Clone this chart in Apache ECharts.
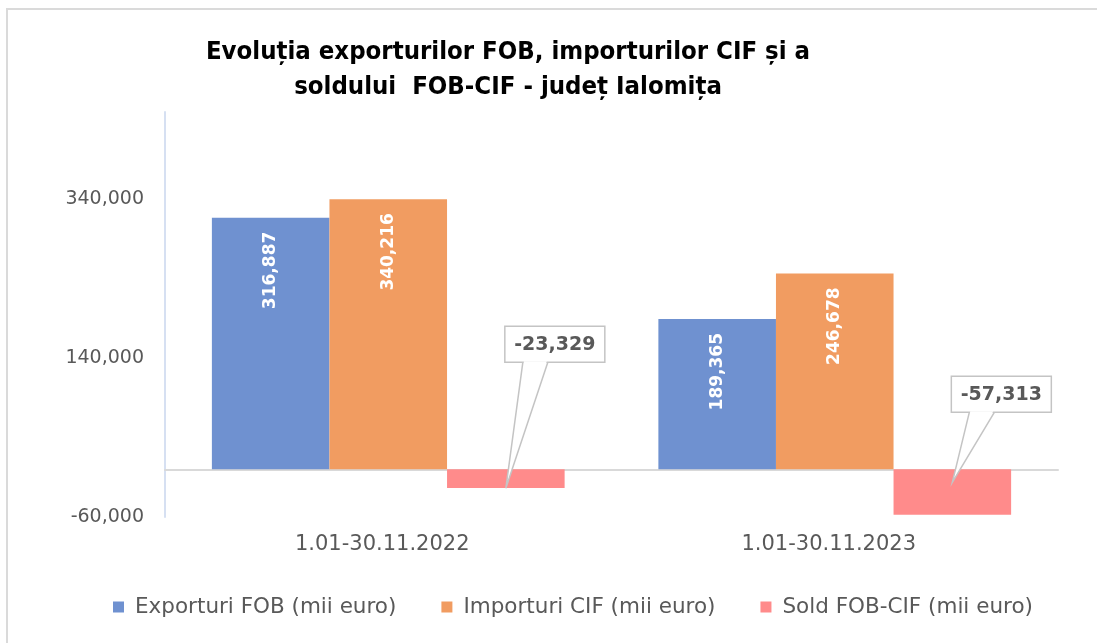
<!DOCTYPE html>
<html>
<head>
<meta charset="utf-8">
<title>Evoluția exporturilor FOB, importurilor CIF și a soldului FOB-CIF - județ Ialomița</title>
<script src="https://cdn.jsdelivr.net/npm/echarts@6/dist/echarts.min.js"></script>
<style>
  html, body { margin: 0; padding: 0; background: #fff; overflow: hidden; }
  #chart { width: 1097px; height: 643px; }
</style>
</head>
<body>
<div id="chart"></div>
<script>
// date
const categories = ['1.01-30.11.2022', '1.01-30.11.2023']
const exporturi = [316887, 189365]
const importuri = [340216, 246678]
const sold = [-23329, -57313]
const seriesNames = ['Exporturi FOB (mii euro)', 'Importuri CIF (mii euro)', 'Sold FOB-CIF (mii euro)']
const yTicks = [-60000, 140000, 340000]

// culori
const colors = ['#6f91d0', '#f19c61', '#ff8b8b']
const catGap = 0.21

// pozitia casetelor pentru sold (fata de linia zero), doar stil
const calloutStyle = [
  { dy: -143, tipDy: 19 },
  { dy: -93, tipDy: 13 }
]

const fmt = (v) => Number(v).toLocaleString('en-US')

const chart = echarts.init(document.getElementById('chart'))

// eticheta verticala in interiorul barei
const insideLabel = {
  show: true,
  position: 'insideTop',
  distance: 14,
  rotate: 90,
  align: 'right',
  verticalAlign: 'middle',
  color: '#fff',
  fontFamily: 'DejaVu Sans',
  fontWeight: 'bold',
  fontSize: 17,
  formatter: (p) => fmt(p.value)
}

// caseta cu sageata pentru sold
const renderCallout = (params, api) => {
  const cat = api.value(0)
  const zero = api.coord([cat, 0])
  const catW = api.size([1, 0])[0]
  const bw = (catW * (1 - catGap)) / 3
  const bx = zero[0] + bw
  const s = calloutStyle[params.dataIndex]
  const boxW = 100
  const boxH = 36
  const left = bx - 1
  const top = zero[1] + s.dy
  const bottom = top + boxH
  const tip = [bx, zero[1] + s.tipDy]
  const b1 = [left + 18, bottom]
  const b2 = [left + 43, bottom]
  return {
    type: 'group',
    children: [
      {
        type: 'rect',
        shape: { x: left, y: top, width: boxW, height: boxH },
        style: { fill: '#fff', stroke: '#c4c4c4', lineWidth: 1.5 }
      },
      {
        type: 'polygon',
        shape: { points: [[b1[0] + 1, bottom - 1], tip, [b2[0] - 1, bottom - 1]] },
        style: { fill: '#fff', stroke: null }
      },
      {
        type: 'polyline',
        shape: { points: [b1, tip, b2] },
        style: { fill: null, stroke: '#c4c4c4', lineWidth: 1.5 }
      },
      {
        type: 'text',
        style: {
          x: left + boxW / 2,
          y: top + boxH / 2 + 1,
          text: fmt(api.value(1)),
          align: 'center',
          verticalAlign: 'middle',
          fill: '#595959',
          fontFamily: 'DejaVu Sans',
          fontWeight: 'bold',
          fontSize: 19
        }
      }
    ]
  }
}

const option = {
  animation: false,
  backgroundColor: '#fff',
  // chenarul zonei graficului (sus si stanga)
  graphic: [
    {
      type: 'polyline',
      silent: true,
      shape: { points: [[7, 643], [7, 9], [1097, 9]] },
      style: { fill: null, stroke: '#dadada', lineWidth: 2 }
    }
  ],
  title: {
    text: 'Evoluția exporturilor FOB, importurilor CIF și a\nsoldului  FOB-CIF - județ Ialomița',
    left: 503,
    top: 30,
    textAlign: 'center',
    textStyle: {
      fontFamily: 'DejaVu Sans Condensed',
      fontWeight: 'bold',
      fontSize: 25.5,
      lineHeight: 35,
      color: '#000'
    }
  },
  legend: {
    data: seriesNames,
    left: 113,
    top: 596,
    padding: 0,
    itemWidth: 11,
    itemHeight: 11,
    itemGap: 45,
    icon: 'rect',
    textStyle: {
      fontFamily: 'DejaVu Sans',
      fontSize: 21.5,
      color: '#595959',
      padding: [0, 0, 0, 6]
    }
  },
  grid: {
    left: 165,
    right: 39,
    top: 112,
    bottom: 126,
    outerBoundsMode: 'none'
  },
  xAxis: [
    {
      type: 'category',
      data: categories,
      position: 'bottom',
      axisLine: { onZero: true, lineStyle: { color: '#d9d9d9', width: 2 } },
      axisTick: { show: false },
      axisLabel: { show: false }
    },
    {
      type: 'category',
      data: categories,
      position: 'bottom',
      axisLine: { show: false, onZero: false },
      axisTick: { show: false },
      axisLabel: {
        margin: 17,
        fontFamily: 'DejaVu Sans',
        fontSize: 21,
        color: '#595959',
        padding: [0, 12, 0, 0]
      }
    }
  ],
  yAxis: {
    type: 'value',
    min: yTicks[0],
    max: 450000,
    interval: yTicks[1] - yTicks[0],
    axisLine: { show: true, lineStyle: { color: '#d6e0f2', width: 2 } },
    axisTick: { show: false },
    splitLine: { show: false },
    axisLabel: {
      margin: 21,
      fontFamily: 'DejaVu Sans',
      fontSize: 19,
      color: '#595959',
      showMaxLabel: false,
      formatter: (v) => (yTicks.includes(v) ? fmt(v) : '')
    }
  },
  series: [
    {
      name: seriesNames[0],
      type: 'bar',
      data: exporturi,
      barGap: '0%',
      barCategoryGap: catGap * 100 + '%',
      itemStyle: { color: colors[0] },
      label: insideLabel
    },
    {
      name: seriesNames[1],
      type: 'bar',
      data: importuri,
      barGap: '0%',
      barCategoryGap: catGap * 100 + '%',
      itemStyle: { color: colors[1] },
      label: insideLabel
    },
    {
      name: seriesNames[2],
      type: 'bar',
      data: sold,
      barGap: '0%',
      barCategoryGap: catGap * 100 + '%',
      itemStyle: { color: colors[2] }
    },
    {
      name: 'callout',
      type: 'custom',
      z: 10,
      silent: true,
      data: sold.map((v, i) => [i, v]),
      encode: { x: 0, y: 1 },
      renderItem: renderCallout
    }
  ]
}

chart.setOption(option)
</script>
</body>
</html>
